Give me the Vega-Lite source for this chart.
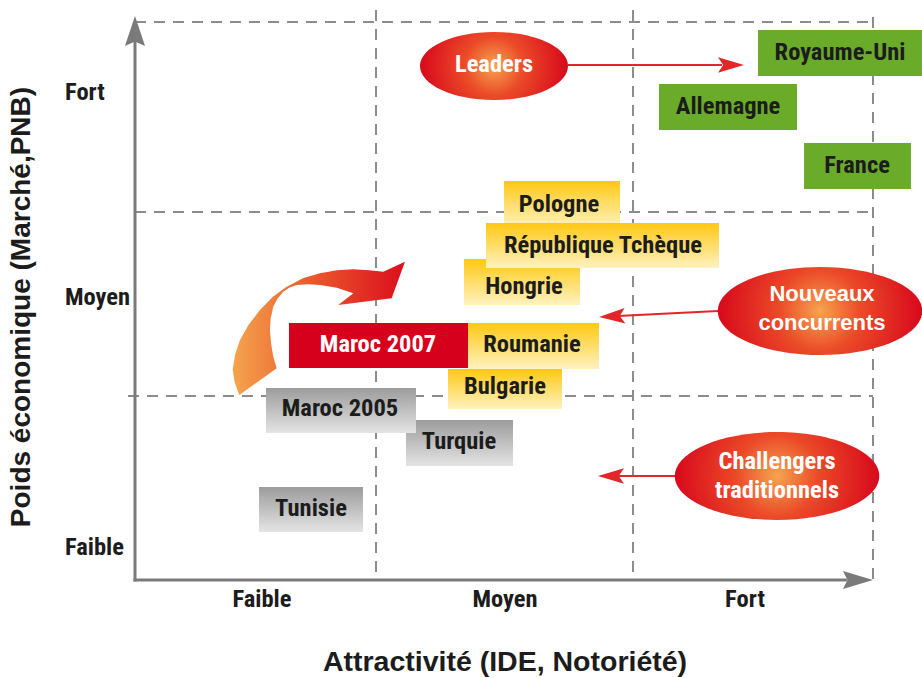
{
  "$schema": "https://vega.github.io/schema/vega-lite/v6.json",
  "width": 922,
  "height": 678,
  "padding": 0,
  "autosize": {"type": "none"},
  "background": "white",
  "config": {"view": {"stroke": null}},
  "datasets": {
    "grid": [
      {"x": 0, "y": 100, "x2": 99.73, "y2": 100},
      {"x": 0, "y": 65.95, "x2": 99.73, "y2": 65.95},
      {"x": -0.95, "y": 32.97, "x2": 99.73, "y2": 32.97},
      {"x": 32.57, "y": 102.15, "x2": 32.57, "y2": 0},
      {"x": 67.3, "y": 102.15, "x2": 67.3, "y2": 0},
      {"x": 99.73, "y": 100.9, "x2": 99.73, "y2": 0}
    ],
    "axes": [
      {"x": 0, "y": 0, "x2": 0, "y2": 97.5},
      {"x": 0, "y": 0, "x2": 96, "y2": 0}
    ],
    "boxes": [
      {"name": "Royaume-Uni", "group": "green", "x": 84.19, "x2": 106.35, "y": 98.57, "y2": 90.32},
      {"name": "Allemagne", "group": "green", "x": 70.81, "x2": 89.46, "y": 88.89, "y2": 80.65},
      {"name": "France", "group": "green", "x": 90.41, "x2": 104.86, "y": 78.32, "y2": 70.07},
      {"name": "Hongrie", "group": "yellow", "x": 44.46, "x2": 60.14, "y": 57.53, "y2": 49.28},
      {"name": "Pologne", "group": "yellow", "x": 49.86, "x2": 65.54, "y": 71.51, "y2": 63.26},
      {"name": "République Tchèque", "group": "yellow", "x": 47.43, "x2": 78.92, "y": 63.98, "y2": 55.91},
      {"name": "Roumanie", "group": "yellow", "x": 45.0, "x2": 62.7, "y": 46.06, "y2": 37.81},
      {"name": "Bulgarie", "group": "yellow", "x": 42.3, "x2": 57.7, "y": 37.81, "y2": 30.65},
      {"name": "Maroc 2007", "group": "red", "x": 20.81, "x2": 45.0, "y": 46.06, "y2": 37.99},
      {"name": "Turquie", "group": "gray", "x": 36.62, "x2": 51.08, "y": 28.67, "y2": 20.43},
      {"name": "Maroc 2005", "group": "gray", "x": 17.7, "x2": 37.97, "y": 34.41, "y2": 26.34},
      {"name": "Tunisie", "group": "gray", "x": 16.76, "x2": 30.81, "y": 16.67, "y2": 8.6}
    ],
    "ellipses": [
      {"name": "Leaders", "x": 48.51, "y": 92.11},
      {"name": "Nouveaux concurrents", "x": 92.57, "y": 48.21},
      {"name": "Challengers traditionnels", "x": 86.76, "y": 18.64}
    ],
    "shafts": [
      {"name": "Leaders", "x": 58.51, "y": 92.29, "x2": 79.32, "y2": 92.29},
      {"name": "Nouveaux concurrents", "x": 78.78, "y": 48.21, "x2": 63.92, "y2": 47.22},
      {"name": "Challengers traditionnels", "x": 73.11, "y": 18.64, "x2": 63.92, "y2": 18.64}
    ],
    "heads": [
      {"name": "Leaders", "x": 80.54, "y": 92.29},
      {"name": "Nouveaux concurrents", "x": 64.46, "y": 47.24},
      {"name": "Challengers traditionnels", "x": 64.32, "y": 18.64}
    ],
    "labels": [
      {"text": "Royaume-Uni", "kind": "box", "x": 95.27, "y": 94.44},
      {"text": "Allemagne", "kind": "box", "x": 80.14, "y": 84.77},
      {"text": "France", "kind": "box", "x": 97.57, "y": 74.19},
      {"text": "Pologne", "kind": "box", "x": 57.3, "y": 67.2},
      {"text": "République Tchèque", "kind": "box", "x": 63.24, "y": 59.86},
      {"text": "Hongrie", "kind": "box", "x": 52.57, "y": 52.51},
      {"text": "Roumanie", "kind": "box", "x": 53.65, "y": 42.11},
      {"text": "Bulgarie", "kind": "box", "x": 50.0, "y": 34.59},
      {"text": "Maroc 2005", "kind": "box", "x": 27.7, "y": 30.65},
      {"text": "Turquie", "kind": "box", "x": 43.78, "y": 24.73},
      {"text": "Tunisie", "kind": "box", "x": 23.78, "y": 12.72},
      {"text": "Maroc 2007", "kind": "white", "x": 32.84, "y": 42.11},
      {"text": "Leaders", "kind": "white", "x": 48.51, "y": 92.29},
      {"text": "Challengers", "kind": "white", "x": 86.76, "y": 21.15},
      {"text": "traditionnels", "kind": "white", "x": 86.76, "y": 15.95},
      {"text": "Nouveaux", "kind": "white2", "x": 92.84, "y": 51.25},
      {"text": "concurrents", "kind": "white2", "x": 92.84, "y": 46.06},
      {"text": "Fort", "kind": "ytick", "x": -9.46, "y": 87.28},
      {"text": "Moyen", "kind": "ytick", "x": -9.46, "y": 50.54},
      {"text": "Faible", "kind": "ytick", "x": -9.46, "y": 5.73},
      {"text": "Faible", "kind": "xtick", "x": 17.16, "y": -3.58},
      {"text": "Moyen", "kind": "xtick", "x": 50.0, "y": -3.58},
      {"text": "Fort", "kind": "xtick", "x": 82.43, "y": -3.58},
      {"text": "Attractivité (IDE, Notoriété)", "kind": "xtitle", "x": 50.0, "y": -14.7},
      {"text": "Poids économique (Marché,PNB)", "kind": "ytitle", "x": -15.27, "y": 48.92}
    ],
    "curve": [
      {"name": "Maroc 2005 → 2007", "x": 24.84, "y": 45.1}
    ],
    "axisHeads": [
      {"axis": "y", "x": 0, "y": 98.39},
      {"axis": "x", "x": 97.7, "y": 0}
    ]
  },
  "encoding": {
    "x": {"field": "x", "type": "quantitative", "axis": null, "scale": {"domain": [-18.243, 106.351], "nice": false, "zero": false}},
    "y": {"field": "y", "type": "quantitative", "axis": null, "scale": {"domain": [-17.563, 103.943], "nice": false, "zero": false}}
  },
  "layer": [
    {
      "data": {"name": "grid"},
      "mark": {"type": "rule", "color": "#8c8c8c", "strokeWidth": 2, "strokeDash": [11, 8]},
      "encoding": {"x2": {"field": "x2"}, "y2": {"field": "y2"}}
    },
    {
      "data": {"name": "axes"},
      "mark": {"type": "rule", "color": "#7a7a7a", "strokeWidth": 3, "strokeCap": "square"},
      "encoding": {"x2": {"field": "x2"}, "y2": {"field": "y2"}}
    },
    {
      "data": {"name": "axisHeads"},
      "transform": [{"filter": "datum.axis === 'y'"}],
      "mark": {"type": "point", "filled": true, "opacity": 1, "fill": "#7a7a7a", "size": 900, "shape": "M0,-1L0.67,1L0,0.7L-0.67,1Z"}
    },
    {
      "data": {"name": "axisHeads"},
      "transform": [{"filter": "datum.axis === 'x'"}],
      "mark": {"type": "point", "filled": true, "opacity": 1, "fill": "#7a7a7a", "size": 900, "shape": "M1,0L-1,0.6L-0.7,0L-1,-0.6Z"}
    },
    {
      "data": {"name": "curve"},
      "mark": {
        "type": "point", "filled": true, "opacity": 1, "size": 32400,
        "shape": "M-0.884,0.741L-0.935,0.6L-0.957,0.463L-0.93,0.29L-0.876,0.129L-0.78,-0.04L-0.654,-0.204L-0.51,-0.35L-0.357,-0.463L-0.17,-0.56L0.013,-0.612L0.2,-0.645L0.383,-0.656L0.56,-0.645L0.716,-0.629L0.957,-0.741L0.809,-0.334L0.216,-0.259L0.383,-0.389L0.2,-0.45L0.013,-0.482L-0.12,-0.49L-0.246,-0.482L-0.33,-0.45L-0.395,-0.407L-0.46,-0.33L-0.506,-0.241L-0.535,-0.11L-0.543,0.018L-0.53,0.17L-0.506,0.315L-0.468,0.444Z",
        "fill": {"gradient": "linear", "x1": 0, "y1": 0, "x2": 1, "y2": 0, "stops": [{"offset": 0, "color": "#f5a44e"}, {"offset": 0.45, "color": "#ea5a2c"}, {"offset": 1, "color": "#dc0e1e"}]}
      }
    },
    {
      "data": {"name": "boxes"},
      "transform": [{"filter": "datum.group === 'green'"}],
      "mark": {"type": "rect", "fill": "#6aac2a"},
      "encoding": {"x2": {"field": "x2"}, "y2": {"field": "y2"}}
    },
    {
      "data": {"name": "boxes"},
      "transform": [{"filter": "datum.group === 'yellow'"}],
      "mark": {"type": "rect", "fill": {"gradient": "linear", "x1": 0, "y1": 0, "x2": 0, "y2": 1, "stops": [{"offset": 0, "color": "#ffc812"}, {"offset": 1, "color": "#fff2c0"}]}},
      "encoding": {"x2": {"field": "x2"}, "y2": {"field": "y2"}}
    },
    {
      "data": {"name": "boxes"},
      "transform": [{"filter": "datum.group === 'red'"}],
      "mark": {"type": "rect", "fill": "#d6001c"},
      "encoding": {"x2": {"field": "x2"}, "y2": {"field": "y2"}}
    },
    {
      "data": {"name": "boxes"},
      "transform": [{"filter": "datum.group === 'gray'"}],
      "mark": {"type": "rect", "fill": {"gradient": "linear", "x1": 0, "y1": 0, "x2": 0, "y2": 1, "stops": [{"offset": 0, "color": "#9c9c9c"}, {"offset": 1, "color": "#e4e4e4"}]}},
      "encoding": {"x2": {"field": "x2"}, "y2": {"field": "y2"}}
    },
    {
      "data": {"name": "shafts"},
      "mark": {"type": "rule", "color": "#e2262a", "strokeWidth": 2},
      "encoding": {"x2": {"field": "x2"}, "y2": {"field": "y2"}}
    },
    {
      "data": {"name": "heads"},
      "transform": [{"filter": "datum.name === 'Leaders'"}],
      "mark": {"type": "point", "filled": true, "opacity": 1, "fill": "#e2262a", "size": 676, "angle": 180, "shape": "M-1,0L1,-0.6L0.6,0L1,0.6Z"}
    },
    {
      "data": {"name": "heads"},
      "transform": [{"filter": "datum.name === 'Nouveaux concurrents'"}],
      "mark": {"type": "point", "filled": true, "opacity": 1, "fill": "#e2262a", "size": 676, "angle": 357, "shape": "M-1,0L1,-0.6L0.6,0L1,0.6Z"}
    },
    {
      "data": {"name": "heads"},
      "transform": [{"filter": "datum.name === 'Challengers traditionnels'"}],
      "mark": {"type": "point", "filled": true, "opacity": 1, "fill": "#e2262a", "size": 676, "shape": "M-1,0L1,-0.6L0.6,0L1,0.6Z"}
    },
    {
      "data": {"name": "ellipses"},
      "transform": [{"filter": "datum.name === 'Leaders'"}],
      "mark": {"type": "point", "filled": true, "opacity": 1, "size": 21904,
        "shape": "M-1,0C-1,-0.254 -0.552,-0.46 0,-0.46C0.552,-0.46 1,-0.254 1,0C1,0.254 0.552,0.46 0,0.46C-0.552,0.46 -1,0.254 -1,0Z",
        "fill": {"gradient": "radial", "x1": 0.5, "y1": 0.5, "r1": 0, "x2": 0.5, "y2": 0.5, "r2": 0.5, "stops": [{"offset": 0, "color": "#f6a450"}, {"offset": 0.4, "color": "#eb4a28"}, {"offset": 1, "color": "#d8081c"}]}}
    },
    {
      "data": {"name": "ellipses"},
      "transform": [{"filter": "datum.name !== 'Leaders'"}],
      "mark": {"type": "point", "filled": true, "opacity": 1, "size": 41820,
        "shape": "M-1,0C-1,-0.237 -0.552,-0.43 0,-0.43C0.552,-0.43 1,-0.237 1,0C1,0.237 0.552,0.43 0,0.43C-0.552,0.43 -1,0.237 -1,0Z",
        "fill": {"gradient": "radial", "x1": 0.5, "y1": 0.5, "r1": 0, "x2": 0.5, "y2": 0.5, "r2": 0.5, "stops": [{"offset": 0, "color": "#f6a450"}, {"offset": 0.4, "color": "#eb4a28"}, {"offset": 1, "color": "#d8081c"}]}}
    },
    {
      "data": {"name": "labels"},
      "transform": [{"filter": "datum.kind === 'box'"}],
      "mark": {"type": "text", "font": "Roboto Condensed, Roboto, sans-serif", "fontWeight": "bold", "fontSize": 24.5, "color": "#1c1c1c", "align": "center", "baseline": "middle"},
      "encoding": {"text": {"field": "text"}}
    },
    {
      "data": {"name": "labels"},
      "transform": [{"filter": "datum.kind === 'white'"}],
      "mark": {"type": "text", "font": "Roboto Condensed, Roboto, sans-serif", "fontWeight": "bold", "fontSize": 24.5, "color": "#ffffff", "align": "center", "baseline": "middle"},
      "encoding": {"text": {"field": "text"}}
    },
    {
      "data": {"name": "labels"},
      "transform": [{"filter": "datum.kind === 'white2'"}],
      "mark": {"type": "text", "font": "Liberation Sans, Arial, sans-serif", "fontWeight": "bold", "fontSize": 22, "color": "#ffffff", "align": "center", "baseline": "middle"},
      "encoding": {"text": {"field": "text"}}
    },
    {
      "data": {"name": "labels"},
      "transform": [{"filter": "datum.kind === 'ytick'"}],
      "mark": {"type": "text", "font": "Roboto Condensed, Roboto, sans-serif", "fontWeight": "bold", "fontSize": 24.5, "color": "#1c1c1c", "align": "left", "baseline": "middle"},
      "encoding": {"text": {"field": "text"}}
    },
    {
      "data": {"name": "labels"},
      "transform": [{"filter": "datum.kind === 'xtick'"}],
      "mark": {"type": "text", "font": "Roboto Condensed, Roboto, sans-serif", "fontWeight": "bold", "fontSize": 24.5, "color": "#1c1c1c", "align": "center", "baseline": "middle"},
      "encoding": {"text": {"field": "text"}}
    },
    {
      "data": {"name": "labels"},
      "transform": [{"filter": "datum.kind === 'xtitle'"}],
      "mark": {"type": "text", "font": "Liberation Sans, Arial, sans-serif", "fontWeight": "bold", "fontSize": 28.5, "color": "#1c1c1c", "align": "center", "baseline": "middle"},
      "encoding": {"text": {"field": "text"}}
    },
    {
      "data": {"name": "labels"},
      "transform": [{"filter": "datum.kind === 'ytitle'"}],
      "mark": {"type": "text", "font": "Liberation Sans, Arial, sans-serif", "fontWeight": "bold", "fontSize": 28, "color": "#1c1c1c", "align": "center", "baseline": "middle", "angle": 270},
      "encoding": {"text": {"field": "text"}}
    }
  ]
}
